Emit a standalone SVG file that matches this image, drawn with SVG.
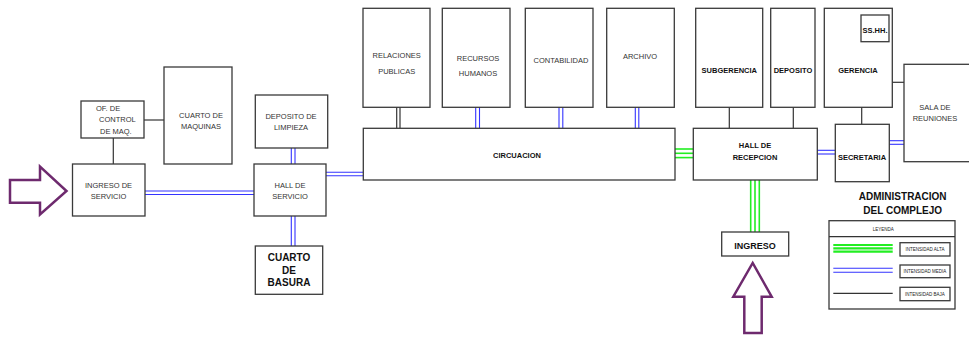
<svg xmlns="http://www.w3.org/2000/svg" width="969" height="338" viewBox="0 0 969 338">
<style>
.box{fill:#fff;stroke:#3a3a3a;stroke-width:1.3}
.t{font-family:"Liberation Sans",Arial,sans-serif;font-size:7.5px;fill:#333;text-anchor:middle}
.b{font-weight:bold;fill:#111}
.big{font-family:"Liberation Sans",Arial,sans-serif;font-size:10px;font-weight:bold;fill:#111;text-anchor:middle}
.tiny{font-family:"Liberation Sans",Arial,sans-serif;font-size:4.5px;fill:#222;text-anchor:middle}
.blk{stroke:#333;stroke-width:1.2;fill:none}
.blu{stroke:#3333ff;stroke-width:1.1;fill:none}
.grn{stroke:#22ee22;stroke-width:1.6;fill:none}
.arr{fill:#fff;stroke:#6e2a6e;stroke-width:2.5;stroke-linejoin:miter}
</style>
<rect width="969" height="338" fill="#fff"/>
<g id="connectors">
  <line class="blk" x1="144" y1="120" x2="164" y2="120"/>
  <line class="blk" x1="113.3" y1="138" x2="113.3" y2="164"/>
  <line class="blu" x1="145" y1="191" x2="254" y2="191"/>
  <line class="blu" x1="145" y1="194.5" x2="254" y2="194.5"/>
  <line class="blu" x1="291.3" y1="148" x2="291.3" y2="164"/>
  <line class="blu" x1="295" y1="148" x2="295" y2="164"/>
  <line class="blu" x1="291.3" y1="216" x2="291.3" y2="246"/>
  <line class="blu" x1="295" y1="216" x2="295" y2="246"/>
  <line class="blu" x1="326" y1="172.3" x2="363" y2="172.3"/>
  <line class="blu" x1="326" y1="175.8" x2="363" y2="175.8"/>
  <line class="blk" x1="396.7" y1="107" x2="396.7" y2="128"/>
  <line class="blk" x1="400" y1="107" x2="400" y2="128"/>
  <line class="blu" x1="475.7" y1="107" x2="475.7" y2="128"/>
  <line class="blu" x1="479.5" y1="107" x2="479.5" y2="128"/>
  <line class="blu" x1="559" y1="107" x2="559" y2="128"/>
  <line class="blu" x1="562.8" y1="107" x2="562.8" y2="128"/>
  <line class="blu" x1="635.3" y1="107" x2="635.3" y2="128"/>
  <line class="blu" x1="638.8" y1="107" x2="638.8" y2="128"/>
  <line class="grn" x1="675" y1="149" x2="693" y2="149"/>
  <line class="grn" x1="675" y1="153.3" x2="693" y2="153.3"/>
  <line class="grn" x1="675" y1="157.6" x2="693" y2="157.6"/>
  <line class="blk" x1="729.3" y1="107" x2="729.3" y2="128"/>
  <line class="blk" x1="793.3" y1="107" x2="793.3" y2="128"/>
  <line class="blk" x1="861.7" y1="107" x2="861.7" y2="124"/>
  <line class="blk" x1="892" y1="82.3" x2="904" y2="82.3"/>
  <line class="blu" x1="817" y1="150.3" x2="835" y2="150.3"/>
  <line class="blu" x1="817" y1="154" x2="835" y2="154"/>
  <line class="blu" x1="889" y1="140.7" x2="904" y2="140.7"/>
  <line class="blu" x1="889" y1="144.3" x2="904" y2="144.3"/>
  <line class="grn" x1="750.7" y1="180" x2="750.7" y2="232"/>
  <line class="grn" x1="755" y1="180" x2="755" y2="232"/>
  <line class="grn" x1="759.3" y1="180" x2="759.3" y2="232"/>
</g>
<g id="arrow-left"><polygon class="arr" points="10,180 40,180 40,166.7 66.5,191 40,214.5 40,202.7 10,202.7"/></g>
<g id="arrow-up"><polygon class="arr" points="744.3,333 744.3,296.7 733.3,296.7 752.7,263 771.7,296.7 761.7,296.7 761.7,333"/></g>
<g id="of-control"><rect class="box" x="81" y="101" width="63" height="37"/>
  <text class="t" x="96" y="111" style="text-anchor:start">OF. DE</text>
  <text class="t" x="99" y="122" style="text-anchor:start">CONTROL</text>
  <text class="t" x="100" y="133.5" style="text-anchor:start">DE MAQ.</text></g>
<g id="cuarto-maquinas"><rect class="box" x="164" y="67" width="68" height="97"/>
  <text class="t" x="201" y="117.7">CUARTO DE</text><text class="t" x="201" y="128.7">MAQUINAS</text></g>
<g id="ingreso-servicio"><rect class="box" x="72.5" y="164" width="72.5" height="52"/>
  <text class="t" x="108.5" y="187.7">INGRESO DE</text><text class="t" x="108.5" y="198.7">SERVICIO</text></g>
<g id="deposito-limpieza"><rect class="box" x="255.3" y="95" width="72.4" height="53"/>
  <text class="t" x="291" y="119.4">DEPOSITO DE</text><text class="t" x="291" y="130.4">LIMPIEZA</text></g>
<g id="hall-servicio"><rect class="box" x="254" y="164" width="72" height="52"/>
  <text class="t" x="290" y="187.7">HALL DE</text><text class="t" x="290" y="198.7">SERVICIO</text></g>
<g id="cuarto-basura"><rect class="box" x="255.3" y="246" width="67.4" height="48.3"/>
  <text class="big" x="289" y="260.8">CUARTO</text><text class="big" x="289" y="273.5">DE</text><text class="big" x="289" y="286.2">BASURA</text></g>
<g id="relaciones"><rect class="box" x="363" y="8.3" width="67" height="99"/>
  <text class="t" x="396.7" y="58.4">RELACIONES</text><text class="t" x="396.7" y="73.7">PUBLICAS</text></g>
<g id="recursos"><rect class="box" x="442.3" y="8.3" width="67.7" height="99"/>
  <text class="t" x="478" y="61">RECURSOS</text><text class="t" x="478" y="76">HUMANOS</text></g>
<g id="contabilidad"><rect class="box" x="525.3" y="8.3" width="67.7" height="99"/>
  <text class="t" x="561" y="62.7">CONTABILIDAD</text></g>
<g id="archivo"><rect class="box" x="606.7" y="8.3" width="67.6" height="99"/>
  <text class="t" x="640" y="59.4">ARCHIVO</text></g>
<g id="circuacion"><rect class="box" x="363.3" y="128.3" width="311.7" height="51.7"/>
  <text class="t b" x="517" y="157.8">CIRCUACION</text></g>
<g id="subgerencia"><rect class="box" x="695.7" y="8.3" width="67" height="99"/>
  <text class="t b" x="729.3" y="72.7">SUBGERENCIA</text></g>
<g id="deposito"><rect class="box" x="770.7" y="8.3" width="44.3" height="99"/>
  <text class="t b" x="793" y="72.7">DEPOSITO</text></g>
<g id="gerencia"><rect class="box" x="824.3" y="8.3" width="68" height="99"/>
  <text class="t b" x="858" y="72.7">GERENCIA</text></g>
<g id="sshh"><rect class="box" x="861" y="15" width="28" height="26.7"/>
  <text class="t b" x="875" y="32.7">SS.HH.</text></g>
<g id="sala-reuniones"><rect class="box" x="904" y="64.3" width="70" height="97.4"/>
  <text class="t" x="935" y="109.7">SALA DE</text><text class="t" x="935" y="120.7">REUNIONES</text></g>
<g id="hall-recepcion"><rect class="box" x="693.3" y="128.3" width="124" height="51.7"/>
  <text class="t b" x="755" y="147.7">HALL DE</text><text class="t b" x="755" y="159.7">RECEPCION</text></g>
<g id="secretaria"><rect class="box" x="835.3" y="124.3" width="54" height="57.4"/>
  <text class="t b" x="862" y="159.7">SECRETARIA</text></g>
<g id="ingreso"><rect class="box" x="721.7" y="232" width="67" height="24"/>
  <text class="t b" x="755" y="249" style="font-size:9px">INGRESO</text></g>
<g id="titulo">
  <text class="big" x="902.7" y="199.5">ADMINISTRACION</text>
  <text class="big" x="902.7" y="213.5">DEL COMPLEJO</text></g>
<g id="leyenda">
  <rect class="box" x="829" y="220.7" width="126" height="88.3"/>
  <line class="blk" x1="829" y1="236.7" x2="955" y2="236.7"/>
  <text class="tiny" x="883.3" y="231">LEYENDA</text>
  <line stroke="#22ee22" stroke-width="2.2" x1="833.3" y1="245" x2="892.7" y2="245"/>
  <line stroke="#22ee22" stroke-width="2.2" x1="833.3" y1="248.3" x2="892.7" y2="248.3"/>
  <line stroke="#22ee22" stroke-width="2.2" x1="833.3" y1="251.7" x2="892.7" y2="251.7"/>
  <line class="blu" x1="833.3" y1="268.3" x2="892.7" y2="268.3"/>
  <line class="blu" x1="833.3" y1="272.3" x2="892.7" y2="272.3"/>
  <line class="blk" x1="833.3" y1="293.3" x2="892.7" y2="293.3"/>
  <rect class="box" x="900" y="242.7" width="50" height="13.3"/>
  <text class="tiny" x="925" y="251">INTENSIDAD ALTA</text>
  <rect class="box" x="900" y="265" width="50" height="12.7"/>
  <text class="tiny" x="925" y="273">INTENSIDAD MEDIA</text>
  <rect class="box" x="900" y="287.3" width="50" height="13.4"/>
  <text class="tiny" x="925" y="295.7">INTENSIDAD BAJA</text>
</g>
</svg>
